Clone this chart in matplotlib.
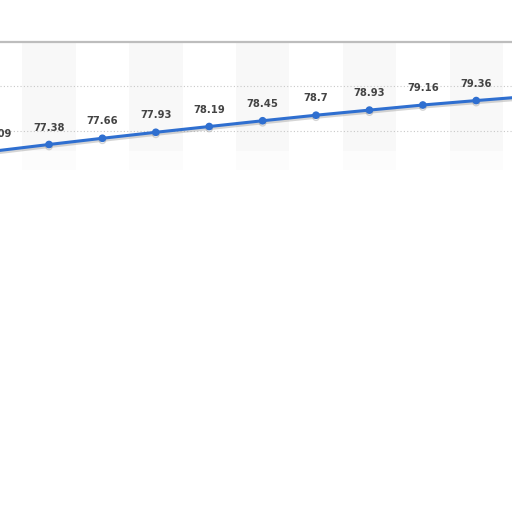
import matplotlib
matplotlib.use('Agg')
from matplotlib import pyplot as plt
from matplotlib import patheffects as pe

# data (first and last points are cut by the frame)
points = [0, 1, 2, 3, 4, 5, 6, 7, 8, 9, 10]
values = [77.09, 77.38, 77.66, 77.93, 78.19, 78.45, 78.7, 78.93, 79.16, 79.36, 79.55]
labels = ['77.09', '77.38', '77.66', '77.93', '78.19', '78.45', '78.7', '78.93', '79.16', '79.36', '']
grid_values = [78, 80]

fig = plt.figure(figsize=(5.12, 5.12), dpi=100)
ax = fig.add_axes([0, 1 - 170 / 512, 1, 128 / 512])
ax.set_xlim(0.0824, 9.67)
ax.set_ylim(76.23, 82)

# alternating column shading, very faint and fading towards the bottom
for i in points:
    if i % 2 == 1:
        ax.axvspan(i - 0.5, i + 0.5, ymin=0.15, color='#f8f8f8', zorder=0, lw=0)
        ax.axvspan(i - 0.5, i + 0.5, ymax=0.15, color='#fcfcfc', zorder=0, lw=0)

for g in grid_values:
    ax.axhline(g, color='#c8c8c8', lw=0.8, ls=(0, (1, 2)), zorder=1)
ax.axhline(82, color='#bdbdbd', lw=1.6, zorder=1, clip_on=False)

ax.plot(points, values, color='#2f6fd0', lw=2.2, marker='o', markersize=4.5,
        zorder=3, clip_on=False,
        path_effects=[pe.SimpleLineShadow(offset=(0, -1.5), shadow_color='#888888', alpha=0.35),
                      pe.Normal()])

for x, v, t in zip(points, values, labels):
    if t:
        ax.annotate(t, (x, v), xytext=(0, 12.2), textcoords='offset points',
                    ha='center', va='center', fontsize=7.2, fontweight='bold',
                    color='#444444', annotation_clip=False)

ax.axis('off')
fig.savefig('out.png', dpi=100)
